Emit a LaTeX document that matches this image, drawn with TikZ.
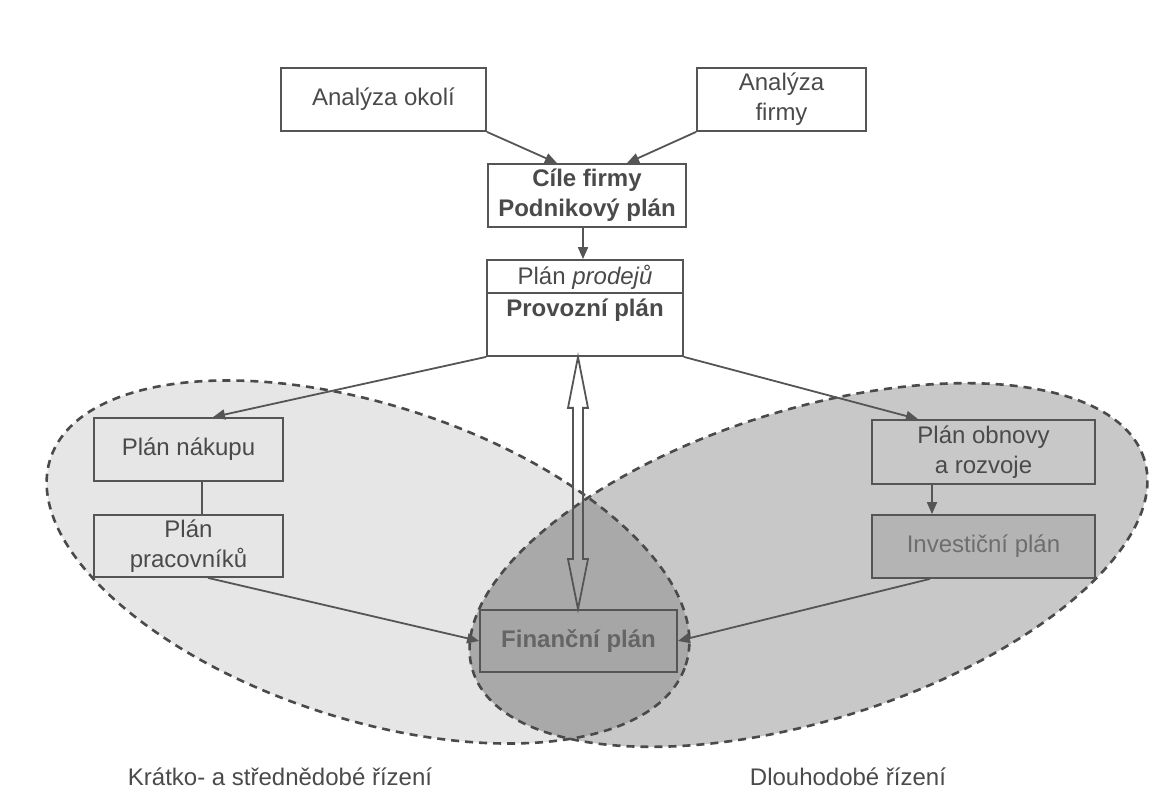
\documentclass[tikz,border=0pt]{standalone}
\usepackage{fontspec}
\setmainfont{Liberation Sans}
\usetikzlibrary{arrows.meta,calc}
\definecolor{lineC}{HTML}{555555}
\definecolor{textC}{HTML}{4A4A4A}
\definecolor{dashC}{HTML}{4A4A4A}
\definecolor{leftC}{HTML}{E6E6E6}
\definecolor{rightC}{HTML}{C8C8C8}
\definecolor{lensC}{HTML}{A9A9A9}
\definecolor{invC}{HTML}{B4B4B4}
\definecolor{finC}{HTML}{A6A6A6}
\begin{document}
\begin{tikzpicture}[x=0.5pt,y=0.5pt,
  font=\fontsize{12}{15}\selectfont,
  box/.style={draw=lineC, line width=0.9pt, inner sep=0pt, align=center, text=textC},
  conn/.style={draw=lineC, line width=0.9pt, -{Triangle[length=6pt,width=5pt]}},
  plainline/.style={draw=lineC, line width=0.9pt},
  zone/.style={draw=dashC, line width=1.3pt, dash pattern=on 4pt off 3pt},
  lbl/.style={text=textC, inner sep=0pt}]
\useasboundingbox (0,0) rectangle (1164,-807);
% zones
\fill[leftC, rotate around={-18:(368,-562)}] (368,-562) ellipse [x radius=334, y radius=157];
\fill[rightC, rotate around={17.5:(808.5,-565)}] (808.5,-565) ellipse [x radius=352, y radius=155];
\begin{scope}
  \clip[rotate around={-18:(368,-562)}] (368,-562) ellipse [x radius=334, y radius=157];
  \fill[lensC, rotate around={17.5:(808.5,-565)}] (808.5,-565) ellipse [x radius=352, y radius=155];
\end{scope}
\draw[zone, rotate around={-18:(368,-562)}] (368,-562) ellipse [x radius=334, y radius=157];
\draw[zone, rotate around={17.5:(808.5,-565)}] (808.5,-565) ellipse [x radius=352, y radius=155];
% boxes
\node[box, minimum width=102.5pt, minimum height=31.5pt] (okoli) at (383.5,-99.5) {Analýza okolí};
\node[box, minimum width=84.5pt, minimum height=31.5pt] (firmy) at (781.5,-99.5) {Analýza\\firmy};
\node[box, font=\fontsize{12}{15}\selectfont\bfseries, minimum width=99pt, minimum height=31.5pt] (cile) at (587,-195.5) {Cíle firmy\\Podnikový plán};
\node[box, minimum width=98pt, minimum height=48pt] (prod) at (585,-308) {};
\node[lbl] (prodt) at (585,-277) {Plán \textit{prodejů}};
\node[lbl, font=\fontsize{12}{15}\selectfont\bfseries] (provt) at (585,-310) {Provozní plán};
\draw[plainline] (prod.west |- 0,-293) -- (prod.east |- 0,-293);
\node[box, fill=leftC, minimum width=94.5pt, minimum height=31.5pt] (nakup) at (188.5,-449.5) {Plán nákupu};
\node[box, fill=leftC, minimum width=94.5pt, minimum height=31pt] (prac) at (188.5,-546) {Plán\\pracovníků};
\node[box, fill=rightC, minimum width=111.5pt, minimum height=32pt] (obnova) at (983.5,-452) {Plán obnovy\\a rozvoje};
\node[box, fill=invC, text=textC!80, minimum width=111.5pt, minimum height=31.5pt] (inv) at (983.5,-546.5) {Investiční plán};
\node[box, fill=finC, font=\fontsize{12}{15}\selectfont\bfseries, text=textC!85, minimum width=98.5pt, minimum height=31pt] (fin) at (578.5,-641) {Finanční plán};
% connectors
\draw[conn] (okoli.south east) -- ([xshift=-15pt]cile.north);
\draw[conn] (firmy.south west) -- ([xshift=20pt]cile.north);
\draw[conn] ([xshift=-2pt]cile.south) -- ([xshift=-2pt]cile.south |- prod.north);
\draw[conn] (prod.south west) -- ([xshift=12.25pt]nakup.north);
\draw[conn] (prod.south east) -- ([xshift=-32.75pt]obnova.north);
\draw[plainline] ([xshift=6.75pt]nakup.south) -- ([xshift=6.75pt]prac.north);
\draw[conn] ([xshift=-25.75pt]obnova.south) -- ([xshift=-25.75pt]inv.north);
\draw[conn] ([xshift=9.75pt]prac.south) -- (fin.west);
\draw[conn] ([xshift=-26.75pt]inv.south) -- (fin.east);
% hollow double arrow
\coordinate (T) at ([xshift=-3.5pt]prod.south);
\coordinate (B) at (T |- fin.north);
\draw[plainline, line join=miter] (T) -- ($(T)+(10,-51)$) -- ($(T)+(5,-51)$) -- ($(B)+(5,50)$) -- ($(B)+(10,50)$) -- (B)
  -- ($(B)+(-10,50)$) -- ($(B)+(-5,50)$) -- ($(T)+(-5,-51)$) -- ($(T)+(-10,-51)$) -- cycle;
% labels
\node[lbl] (lblL) at (280,-777) {Krátko- a střednědobé řízení};
\node[lbl] (lblR) at (848,-777) {Dlouhodobé řízení};
\end{tikzpicture}
\end{document}
